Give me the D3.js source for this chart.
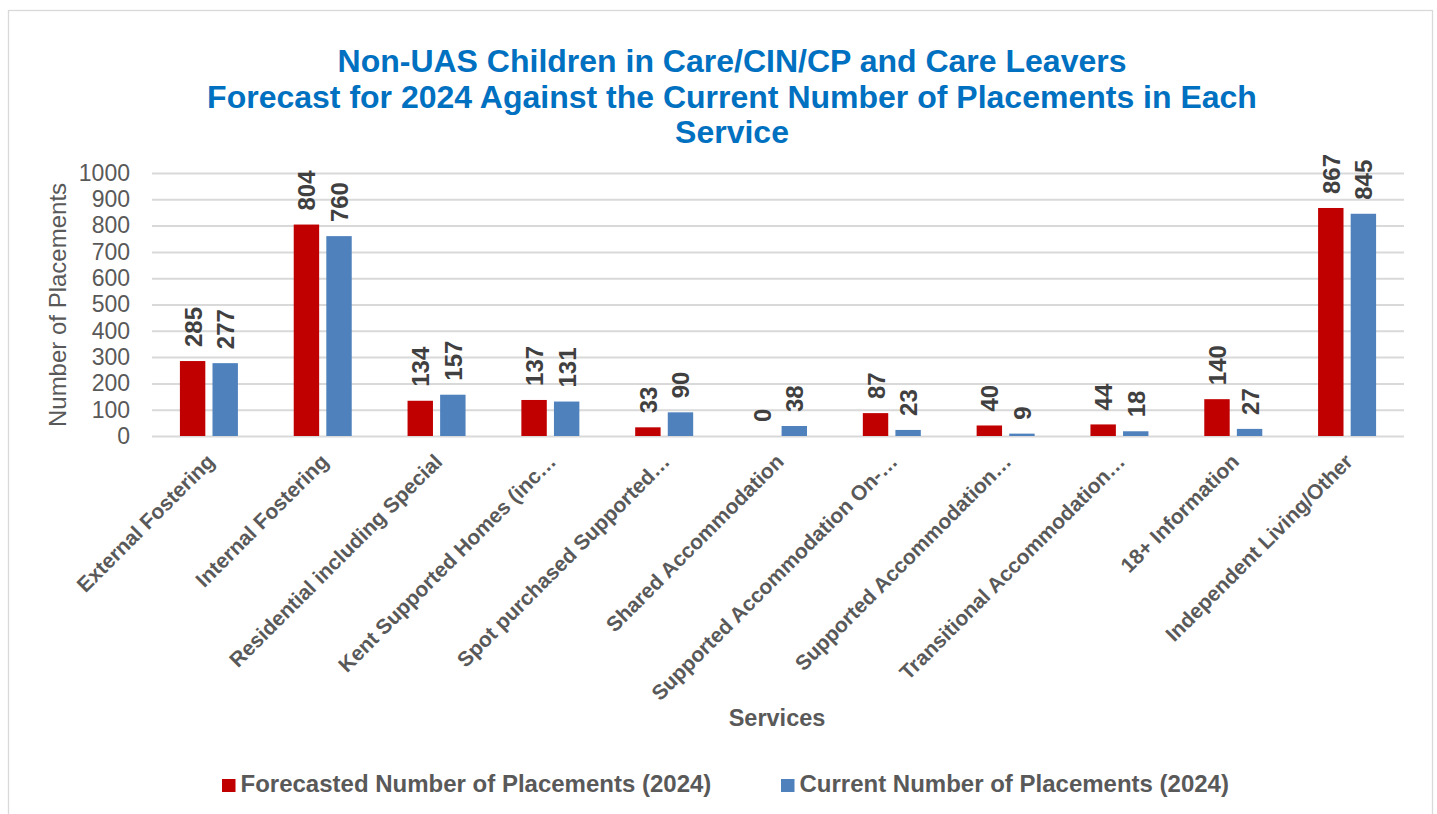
<!DOCTYPE html>
<html>
<head>
<meta charset="utf-8">
<script src="https://cdn.jsdelivr.net/npm/d3@7"></script>
<style>
  html, body { margin: 0; padding: 0; background: #ffffff; }
  svg { display: block; font-family: Arial, "Liberation Sans", sans-serif; }
</style>
</head>
<body>
<svg id="chart" width="1437" height="814"></svg>
<script>
// Services and placement counts
const categories = [
  "External Fostering",
  "Internal Fostering",
  "Residential including Special",
  "Kent Supported Homes (inc…",
  "Spot purchased Supported…",
  "Shared Accommodation",
  "Supported Accommodation On-…",
  "Supported Accommodation…",
  "Transitional Accommodation…",
  "18+ Information",
  "Independent Living/Other"
];
const forecastValues = [285, 804, 134, 137, 33, 0, 87, 40, 44, 140, 867];
const currentValues  = [277, 760, 157, 131, 90, 38, 23, 9, 18, 27, 845];
const seriesNames = [
  "Forecasted Number of Placements (2024)",
  "Current Number of Placements (2024)"
];
const yTicks = [0, 100, 200, 300, 400, 500, 600, 700, 800, 900, 1000];
const titleLines = [
  "Non-UAS Children in Care/CIN/CP and Care Leavers",
  "Forecast for 2024 Against the Current Number of Placements in Each",
  "Service"
];

const colors = ["#C00000", "#4F81BD"];
const svg = d3.select("#chart");

// outer frame
svg.append("rect")
  .attr("x", 8.5).attr("y", 10.5)
  .attr("width", 1424).attr("height", 820)
  .attr("fill", "#fff").attr("stroke", "#d9d9d9").attr("stroke-width", 1.3);

const plot = { left: 152, right: 1404, top: 173, bottom: 436 };

const x0 = d3.scaleBand().domain(categories).range([plot.left, plot.right]).paddingInner(0).paddingOuter(0);
const x1 = d3.scaleBand().domain([0, 1]).range([x0.bandwidth() / 2 - 29, x0.bandwidth() / 2 + 29]).paddingInner(0.22);
const y = d3.scaleLinear().domain([0, 1000]).range([plot.bottom, plot.top]);

// title
svg.append("g").selectAll("text").data(titleLines).join("text")
  .attr("x", 732)
  .attr("y", (d, i) => 72 + i * 35.5)
  .attr("text-anchor", "middle")
  .attr("font-size", 32).attr("font-weight", "bold")
  .attr("fill", "#0070C0")
  .text(d => d);

// gridlines + y axis labels
const yAxis = d3.axisLeft(y).tickValues(yTicks).tickFormat(d3.format("d"))
  .tickSize(-(plot.right - plot.left)).tickPadding(22);
const gy = svg.append("g").attr("transform", `translate(${plot.left},0)`).call(yAxis);
gy.select(".domain").remove();
gy.selectAll(".tick line").attr("stroke", "#d9d9d9").attr("stroke-width", 2);
gy.selectAll(".tick text")
  .attr("font-size", 23).attr("fill", "#595959")
  .attr("font-family", "Arial, 'Liberation Sans', sans-serif");

// y axis title
svg.append("text")
  .attr("transform", "translate(66,305) rotate(-90)")
  .attr("text-anchor", "middle")
  .attr("font-size", 24).attr("fill", "#595959")
  .text("Number of Placements");

// bars
const rows = categories.map((c, i) => ({ c, vals: [forecastValues[i], currentValues[i]] }));
const groups = svg.append("g").selectAll("g").data(rows).join("g")
  .attr("transform", d => `translate(${x0(d.c)},0)`);

groups.selectAll("rect").data(d => d.vals.map((v, k) => ({ v, k }))).join("rect")
  .attr("x", d => x1(d.k))
  .attr("y", d => y(d.v))
  .attr("width", x1.bandwidth())
  .attr("height", d => y(0) - y(d.v))
  .attr("fill", d => colors[d.k]);

// value labels, rotated
groups.selectAll("text.val").data(d => d.vals.map((v, k) => ({ v, k }))).join("text")
  .attr("class", "val")
  .attr("transform", d => `translate(${x1(d.k) + x1.bandwidth() / 2 + 9},${y(d.v) - 14}) rotate(-90)`)
  .attr("font-size", 24).attr("font-weight", "bold")
  .attr("fill", "#404040")
  .text(d => d.v);

// category labels, rotated 45°
const xAxis = d3.axisBottom(x0).tickSize(0).tickPadding(0);
const gx = svg.append("g").attr("transform", `translate(0,${plot.bottom})`).call(xAxis);
gx.select(".domain").remove();
gx.selectAll(".tick text")
  .attr("font-size", 21).attr("font-weight", "bold").attr("fill", "#595959")
  .attr("font-family", "Arial, 'Liberation Sans', sans-serif")
  .attr("text-anchor", "end")
  .attr("dy", null)
  .attr("transform", "translate(7,27) rotate(-45)");

// x axis title
svg.append("text")
  .attr("x", 777).attr("y", 726)
  .attr("text-anchor", "middle")
  .attr("font-size", 23.5).attr("font-weight", "bold")
  .attr("fill", "#595959")
  .text("Services");

// legend
const legendX = [222, 781];
const lg = svg.append("g").selectAll("g").data(seriesNames).join("g")
  .attr("transform", (d, i) => `translate(${legendX[i]},785)`);
lg.append("rect").attr("x", 0).attr("y", -6).attr("width", 13.5).attr("height", 13)
  .attr("fill", (d, i) => colors[i]);
lg.append("text").attr("x", 18.5).attr("y", 7)
  .attr("font-size", 24).attr("font-weight", "bold").attr("fill", "#595959")
  .text(d => d);
</script>
</body>
</html>
